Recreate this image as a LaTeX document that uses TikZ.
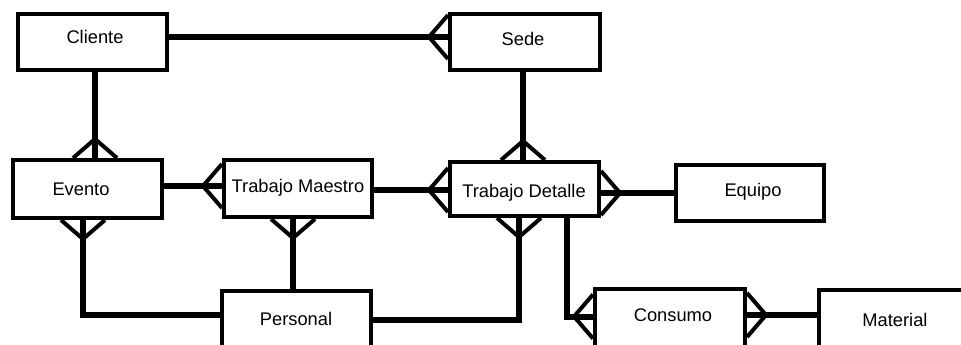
\documentclass[tikz,border=0pt]{standalone}
\usepackage{fontspec}
\setmainfont{Liberation Sans}
\usetikzlibrary{calc}
\begin{document}
\begin{tikzpicture}[x=1pt,y=-1pt,
  ent/.style={draw,line width=4pt,fill=white,inner sep=0pt},
  lbl/.style={font=\fontsize{18.3}{21}\selectfont,inner sep=0pt,anchor=base},
  rel/.style={line width=6pt,line join=miter},
  foot/.style={line width=4pt,line join=miter},
  pics/crow/.style={code={\draw[foot] (0,-22) -- (-19,0) -- (0,22);}}
]
\useasboundingbox (0,0) rectangle (961,345);
\clip (0,0) rectangle (961,345);

% entities
\node[ent,minimum width=149pt,minimum height=56pt] (cli)  at (92.5,42)   {};
\node[ent,minimum width=150pt,minimum height=56pt] (sede) at (525,42)    {};
\node[ent,minimum width=149pt,minimum height=58pt] (ev)   at (87.5,189)  {};
\node[ent,minimum width=148pt,minimum height=57pt] (tm)   at (298,188.5) {};
\node[ent,minimum width=149pt,minimum height=54pt] (td)   at (524.5,189) {};
\node[ent,minimum width=148pt,minimum height=56pt] (eq)   at (750,193)   {};
\node[ent,minimum width=149pt,minimum height=58pt] (per)  at (296.5,320) {};
\node[ent,minimum width=150pt,minimum height=58pt] (con)  at (670,318)   {};
\node[ent,minimum width=160pt,minimum height=58pt] (mat)  at (899,319)   {};

% entity names
\node[lbl] (cliT)  at (95,44)    {Cliente};
\node[lbl] (sedeT) at (523,45.5) {Sede};
\node[lbl] (evT)   at (81,195)   {Evento};
\node[lbl] (tmT)   at (298,192.5){Trabajo Maestro};
\node[lbl] (tdT)   at (524,197)  {Trabajo Detalle};
\node[lbl] (eqT)   at (753,196)  {Equipo};
\node[lbl] (perT)  at (296,325)  {Personal};
\node[lbl] (conT)  at (673,321.5){Consumo};
\node[lbl] (matT)  at (895,326)  {Material};

% Cliente - Sede
\draw[rel] ([yshift=5pt]cli.east) -- ([yshift=5pt]sede.west);
\pic at ([yshift=5pt]sede.west) {crow};

% Cliente - Evento
\coordinate (c1) at ([xshift=2.5pt]cli.south);
\draw[rel] (c1) -- (c1 |- ev.north);
\pic[rotate=-90] at (c1 |- ev.north) {crow};

% Evento - Trabajo Maestro
\coordinate (c2) at ([yshift=3pt]ev.east);
\draw[rel] (c2) -- (c2 -| tm.west);
\pic at (c2 -| tm.west) {crow};

% Trabajo Maestro - Trabajo Detalle
\coordinate (c3) at ([yshift=-1.5pt]tm.east);
\draw[rel] (c3) -- (c3 -| td.west);
\pic at (c3 -| td.west) {crow};

% Sede - Trabajo Detalle
\coordinate (c4) at ([xshift=-2pt]sede.south);
\draw[rel] (c4) -- (c4 |- td.north);
\pic[rotate=-90] at (c4 |- td.north) {crow};

% Trabajo Detalle - Equipo
\coordinate (c5) at ([yshift=-4pt]td.east);
\draw[rel] (c5) -- (c5 -| eq.west);
\pic[rotate=180] at (c5) {crow};

% Evento - Personal
\coordinate (c6) at ([xshift=-4.5pt]ev.south);
\draw[rel] (c6) |- ([yshift=5pt]per.west);
\pic[rotate=90] at (c6) {crow};

% Trabajo Maestro - Personal
\coordinate (c7) at ([xshift=-5pt]tm.south);
\draw[rel] (c7) -- (c7 |- per.north);
\pic[rotate=90] at (c7) {crow};

% Personal - Trabajo Detalle
\coordinate (c8) at ([xshift=-5.5pt]td.south);
\draw[rel] (per.east) -| (c8);
\pic[rotate=90] at (c8) {crow};

% Trabajo Detalle - Consumo
\coordinate (c9) at ([xshift=42pt]td.south);
\coordinate (c10) at ([yshift=1.5pt]con.west);
\draw[rel] (c9) |- (c10);
\pic at (c10) {crow};

% Consumo - Material
\coordinate (c11) at ([yshift=3pt]con.east);
\draw[rel] (c11) -- (c11 -| mat.west);
\pic[rotate=180] at (c11) {crow};
\end{tikzpicture}
\end{document}
